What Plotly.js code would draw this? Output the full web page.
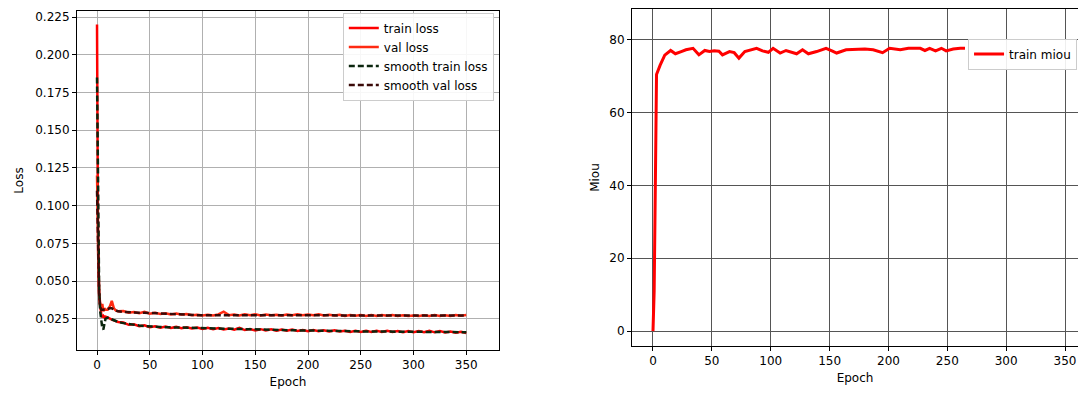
<!DOCTYPE html>
<html>
<head>
<meta charset="utf-8">
<script src="https://cdn.plot.ly/plotly-3.0.1.min.js"></script>
<style>html,body{margin:0;padding:0;background:#fff;}#chart{width:1078px;height:394px;}</style>
</head>
<body>
<div id="chart"></div>
<script>
// ---- Loss chart data ----
const lossEpochs = [0,1,2,3,4,5,6,7,8,10,12,14,16,18,20,
  25,30,35,40,45,50,55,60,65,70,75,80,85,90,95,100,105,110,115,120,125,130,135,140,145,150,
  155,160,165,170,175,180,185,190,195,200,205,210,215,220,225,230,235,240,245,250,
  255,260,265,270,275,280,285,290,295,300,305,310,315,320,325,330,335,340,345,350];

const trainLoss = [0.220,0.070,0.042,0.032,0.028,0.026,0.027,0.026,0.0265,0.026,0.025,0.0245,0.024,0.0235,0.023,
  0.0226,0.0211,0.0214,0.0202,0.0207,0.0195,0.0201,0.0192,0.0199,0.0190,0.0197,0.0188,0.0195,0.0186,0.0193,0.0184,0.0191,0.0182,0.0189,0.0180,0.0187,0.0178,0.0190,0.0176,0.0183,0.0174,
  0.0182,0.0173,0.0181,0.0172,0.0180,0.0171,0.0179,0.0170,0.0177,0.0169,0.0176,0.0168,0.0175,0.0167,0.0174,0.0166,0.0172,0.0164,0.0171,0.0163,
  0.0171,0.0163,0.0171,0.0163,0.0171,0.0163,0.0170,0.0162,0.0170,0.0162,0.0170,0.0162,0.0171,0.0161,0.0169,0.0160,0.0167,0.0159,0.0165,0.0157];

const valLoss = [0.120,0.060,0.040,0.033,0.031,0.035,0.030,0.032,0.031,0.031,0.033,0.037,0.032,0.0305,0.030,
  0.0302,0.0291,0.0296,0.0288,0.0297,0.0285,0.0290,0.0283,0.0288,0.0280,0.0285,0.0279,0.0283,0.0274,0.0278,0.0272,0.0278,0.0273,0.0280,0.0298,0.0275,0.0279,0.0273,0.0280,0.0274,0.0280,
  0.0273,0.0279,0.0274,0.0278,0.0273,0.0279,0.0275,0.0280,0.0274,0.0279,0.0275,0.0280,0.0273,0.0278,0.0272,0.0277,0.0270,0.0276,0.0271,0.0275,
  0.0270,0.0275,0.0270,0.0276,0.0271,0.0275,0.0269,0.0274,0.0269,0.0273,0.0269,0.0274,0.0270,0.0275,0.0270,0.0274,0.0270,0.0275,0.0271,0.0276];

const smoothTrainLoss = [0.185,0.080,0.045,0.030,0.022,0.019,0.018,0.021,0.025,0.0258,0.0252,0.0246,0.0240,0.0235,0.0230,
  0.0222,0.0215,0.0210,0.0206,0.0202,0.0199,0.0197,0.0196,0.0195,0.0194,0.0193,0.0192,0.0191,0.0190,0.0189,0.0188,0.0187,0.0186,0.0185,0.0184,0.0183,0.0182,0.0181,0.0180,0.0179,0.0178,
  0.0178,0.0177,0.0177,0.0176,0.0176,0.0175,0.0175,0.0174,0.0173,0.0173,0.0172,0.0172,0.0171,0.0171,0.0170,0.0170,0.0169,0.0168,0.0168,0.0167,
  0.0167,0.0167,0.0167,0.0167,0.0167,0.0167,0.0166,0.0166,0.0166,0.0166,0.0166,0.0166,0.0166,0.0165,0.0165,0.0164,0.0163,0.0162,0.0162,0.0161];

const smoothValLoss = [0.110,0.065,0.042,0.033,0.031,0.031,0.031,0.031,0.031,0.0315,0.032,0.032,0.0312,0.0305,0.030,
  0.0297,0.0294,0.0292,0.0291,0.0291,0.0289,0.0287,0.0285,0.0284,0.0283,0.0282,0.0281,0.0279,0.0277,0.0275,0.0275,0.0275,0.0276,0.0277,0.0277,0.0277,0.0276,0.0276,0.0277,0.0277,0.0277,
  0.0276,0.0276,0.0276,0.0276,0.0276,0.0276,0.0277,0.0277,0.0277,0.0277,0.0277,0.0276,0.0276,0.0276,0.0275,0.0274,0.0273,0.0273,0.0273,0.0273,
  0.0273,0.0272,0.0272,0.0273,0.0273,0.0272,0.0271,0.0271,0.0271,0.0271,0.0271,0.0271,0.0272,0.0272,0.0272,0.0272,0.0272,0.0272,0.0273,0.0273];

const lossTickVals = [0.025,0.050,0.075,0.100,0.125,0.150,0.175,0.200,0.225];
const epochTicks = [0,50,100,150,200,250,300,350];

// ---- mIoU chart data ----
const miouEpochs = [0,1,2,3,6,10,15,19,24,28,34,39,44,48,52,56,59,65,69,73,78,83,88,93,98,102,108,113,118,
  122,127,132,139,147,152,156,164,173,180,187,195,201,210,217,222,227,231,235,240,245,249,255,261,265];
const trainMiou = [0,11,40,70.5,73,75.8,77.1,76.2,76.8,77.3,77.7,75.9,77.1,76.8,77.0,76.9,75.9,76.8,76.5,75.0,76.8,77.2,77.7,77.0,76.6,77.7,76.4,77.1,76.6,
  76.2,77.3,76.2,76.8,77.7,77.0,76.4,77.3,77.5,77.5,77.3,76.5,77.7,77.3,77.7,77.6,77.7,77.1,77.7,77.0,77.7,77.0,77.5,77.7,77.7];
const miouTickVals = [0,20,40,60,80];

const FONT = 'DejaVu Sans, sans-serif';
const traces = [
  {x: lossEpochs, y: trainLoss, name: 'train loss', mode: 'lines', line: {color: '#ff0000', width: 2.5}, xaxis: 'x', yaxis: 'y', legend: 'legend'},
  {x: lossEpochs, y: valLoss, name: 'val loss', mode: 'lines', line: {color: '#ff2a12', width: 2.5}, xaxis: 'x', yaxis: 'y', legend: 'legend'},
  {x: lossEpochs, y: smoothTrainLoss, name: 'smooth train loss', mode: 'lines', line: {color: '#0b260e', width: 2.5, dash: '6px,3px'}, xaxis: 'x', yaxis: 'y', legend: 'legend'},
  {x: lossEpochs, y: smoothValLoss, name: 'smooth val loss', mode: 'lines', line: {color: '#3a0a08', width: 2.5, dash: '6px,3px'}, xaxis: 'x', yaxis: 'y', legend: 'legend'},
  {x: miouEpochs, y: trainMiou, name: 'train miou', mode: 'lines', line: {color: '#ff0000', width: 3}, xaxis: 'x2', yaxis: 'y2', legend: 'legend2'}
];

const axBase = {
  showline: true, linecolor: '#000', linewidth: 1, mirror: true,
  ticks: 'outside', ticklen: 4, tickcolor: '#000', tickwidth: 1,
  tickfont: {family: FONT, size: 12, color: '#000'},
  zeroline: false, showgrid: true
};

const layout = {
  width: 1078, height: 394,
  margin: {l: 0, r: 0, t: 0, b: 0},
  paper_bgcolor: '#fff', plot_bgcolor: '#fff',
  font: {family: FONT, size: 12, color: '#000'},
  showlegend: true,
  xaxis: Object.assign({}, axBase, {
    domain: [0.0714, 0.4629], range: [-19, 381], anchor: 'y',
    tickvals: epochTicks, gridcolor: '#b0b0b0',
    title: {text: 'Epoch', font: {family: FONT, size: 12}, standoff: 6}
  }),
  yaxis: Object.assign({}, axBase, {
    domain: [0.1117, 0.972], range: [0.0044, 0.229], anchor: 'x',
    tickvals: lossTickVals, tickformat: '.3f', gridcolor: '#b0b0b0',
    title: {text: 'Loss', font: {family: FONT, size: 12}, standoff: 8}
  }),
  xaxis2: Object.assign({}, axBase, {
    domain: [0.5863, 1.0], range: [-17.8, 361], anchor: 'y2',
    tickvals: epochTicks, gridcolor: '#555555',
    title: {text: 'Epoch', font: {family: FONT, size: 12}, standoff: 6}
  }),
  yaxis2: Object.assign({}, axBase, {
    domain: [0.1218, 0.9772], range: [-4.1, 88.5], anchor: 'x2',
    tickvals: miouTickVals, gridcolor: '#555555',
    title: {text: 'Miou', font: {family: FONT, size: 12}, standoff: 7}
  }),
  legend: {
    x: 0.318, y: 0.968, xanchor: 'left', yanchor: 'top',
    bgcolor: 'rgba(255,255,255,0.9)', bordercolor: '#cccccc', borderwidth: 1,
    font: {family: FONT, size: 12, color: '#000'}, tracegroupgap: 0, itemwidth: 30
  },
  legend2: {
    x: 0.898, y: 0.902, xanchor: 'left', yanchor: 'top',
    bgcolor: 'rgba(255,255,255,0.9)', bordercolor: '#cccccc', borderwidth: 1,
    font: {family: FONT, size: 12, color: '#000'}, itemwidth: 30
  }
};

Plotly.newPlot('chart', traces, layout, {staticPlot: true, displayModeBar: false});
</script>
</body>
</html>
